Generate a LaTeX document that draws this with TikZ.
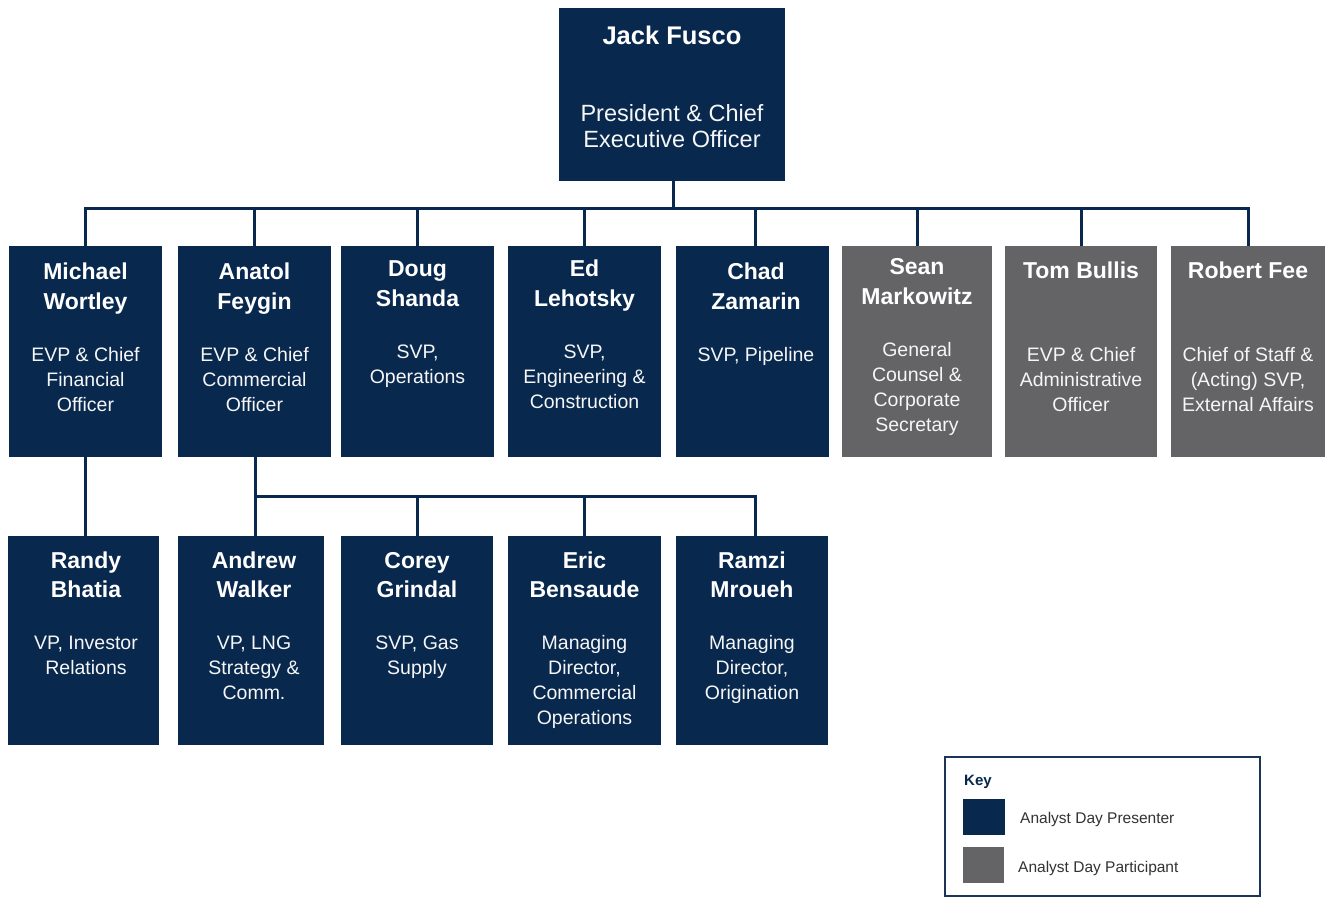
\documentclass[tikz,border=0pt]{standalone}
\usepackage{fontspec}
\setmainfont{Liberation Sans}
\definecolor{navy}{RGB}{8,40,78}
\definecolor{grayb}{RGB}{100,100,102}
\definecolor{keytxt}{RGB}{50,50,50}
\tikzset{
  x=1pt, y=-1pt,
  pres/.style={fill=navy, draw=none, inner sep=0pt, outer sep=0pt},
  part/.style={fill=grayb, draw=none, inner sep=0pt, outer sep=0pt},
  nm/.style={anchor=base, text=white, inner sep=0pt, font=\bfseries\fontsize{23}{26}\selectfont},
  bignm/.style={anchor=base, text=white, inner sep=0pt, font=\bfseries\fontsize{25.5}{28}\selectfont},
  ttl/.style={anchor=base, text=white!93!gray, inner sep=0pt, font=\fontsize{19.5}{22}\selectfont},
  bigttl/.style={anchor=base, text=white!93!gray, inner sep=0pt, font=\fontsize{23.5}{26}\selectfont},
  link/.style={draw=navy, line width=3pt},
  keyframe/.style={draw=navy!85!gray, line width=2pt, fill=white, inner sep=0pt, outer sep=0pt},
  keyhead/.style={anchor=base west, text=navy, inner sep=0pt, font=\bfseries\fontsize{15}{18}\selectfont},
  keylbl/.style={anchor=base west, text=keytxt, inner sep=0pt, font=\fontsize{15.5}{18}\selectfont},
}
% box: id, style, x1, y1, x2, y2
\newcommand\obox[6]{\node[#2, anchor=north west, minimum width={(#5-#3)*1pt}, minimum height={(#6-#4)*1pt}] (#1) at (#3,#4) {};}
% text lines: id, style, x, y0, dy, list
\newcommand\nlines[6]{\foreach \t [count=\i] in {#6} {\node[#2] (#1-\i) at (#3,{#4+(\i-1)*#5}) {\t};}}
\begin{document}
\begin{tikzpicture}
\useasboundingbox[fill=white] (0,0) rectangle (1325,898);
% boxes
\obox{jf}{pres}{559}{8}{785}{181}
\obox{mw}{pres}{9}{246}{162}{457}
\obox{af}{pres}{178}{246}{331}{457}
\obox{ds}{pres}{341}{246}{494}{457}
\obox{el}{pres}{508}{246}{661}{457}
\obox{cz}{pres}{676}{246}{829}{457}
\obox{sm}{part}{842}{246}{992}{457}
\obox{tb}{part}{1005}{246}{1157}{457}
\obox{rf}{part}{1171}{246}{1325}{457}
\obox{rb}{pres}{8}{536}{159}{745}
\obox{aw}{pres}{178}{536}{324}{745}
\obox{cg}{pres}{341}{536}{493}{745}
\obox{eb}{pres}{508}{536}{661}{745}
\obox{rm}{pres}{676}{536}{828}{745}
% connectors
\coordinate (bus) at (673,208);
\coordinate (sub) at (255,496);
\foreach \c in {mw,af,ds,el,sm,tb,rf}{
  \draw[link] (jf.south -| bus) -- (bus) -| (\c.north);
}
\draw[link] (jf.south -| bus) -- (bus) -| ([xshift=2.5pt]cz.north);
\draw[link] (mw.south -| 85,0) -- (rb.north -| 85,0);
\draw[link] (af.south -| sub) -- (aw.north -| sub);
\foreach \c in {cg,eb}{
  \draw[link] (sub) -| (\c.north);
}
\draw[link] (sub) -| ([xshift=3pt]rm.north);
% texts
\nlines{jfn}{bignm}{672}{44}{0}{Jack Fusco}
\nlines{jft}{bigttl}{672}{121}{26}{President \& Chief,Executive Officer}
\nlines{mwn}{nm}{85.5}{279}{30}{Michael,Wortley}
\nlines{mwt}{ttl}{85.5}{361}{25}{EVP \& Chief,Financial,Officer}
\nlines{afn}{nm}{254.5}{279}{30}{Anatol,Feygin}
\nlines{aft}{ttl}{254.5}{361}{25}{EVP \& Chief,Commercial,Officer}
\nlines{dsn}{nm}{417.5}{276}{30}{Doug,Shanda}
\nlines{dst}{ttl}{417.5}{358}{25}{{SVP,},Operations}
\nlines{eln}{nm}{584.5}{276}{30}{Ed,Lehotsky}
\nlines{elt}{ttl}{584.5}{358}{25}{{SVP,},Engineering \&,Construction}
\nlines{czn}{nm}{756}{279}{30}{Chad,Zamarin}
\nlines{czt}{ttl}{756}{361}{25}{{SVP, Pipeline}}
\nlines{smn}{nm}{917}{274}{30}{Sean,Markowitz}
\nlines{smt}{ttl}{917}{356}{25}{General,Counsel \&,Corporate,Secretary}
\nlines{tbn}{nm}{1081}{278}{30}{Tom Bullis}
\nlines{tbt}{ttl}{1081}{361}{25}{EVP \& Chief,Administrative,Officer}
\nlines{rfn}{nm}{1248}{278}{30}{Robert Fee}
\nlines{rft}{ttl}{1248}{361}{25}{Chief of Staff \&,(Acting) {SVP,},External Affairs}
\nlines{rbn}{nm}{86}{568}{29}{Randy,Bhatia}
\nlines{rbt}{ttl}{86}{649}{25}{{VP, Investor},Relations}
\nlines{awn}{nm}{254}{568}{29}{Andrew,Walker}
\nlines{awt}{ttl}{254}{649}{25}{{VP, LNG},Strategy \&,Comm.}
\nlines{cgn}{nm}{417}{568}{29}{Corey,Grindal}
\nlines{cgt}{ttl}{417}{649}{25}{{SVP, Gas},Supply}
\nlines{ebn}{nm}{584.5}{568}{29}{Eric,Bensaude}
\nlines{ebt}{ttl}{584.5}{649}{25}{Managing,{Director,},Commercial,Operations}
\nlines{rmn}{nm}{752}{568}{29}{Ramzi,Mroueh}
\nlines{rmt}{ttl}{752}{649}{25}{Managing,{Director,},Origination}
% key
\obox{key}{keyframe}{945}{757}{1260}{896}
\node[keyhead] (keyh) at (964,785) {Key};
\obox{kpres}{pres}{963}{799}{1005}{835}
\obox{kpart}{part}{963}{847}{1004}{883}
\node[keylbl] (kpl) at (1020,823) {Analyst Day Presenter};
\node[keylbl] (kal) at (1018,872) {Analyst Day Participant};
\end{tikzpicture}
\end{document}
